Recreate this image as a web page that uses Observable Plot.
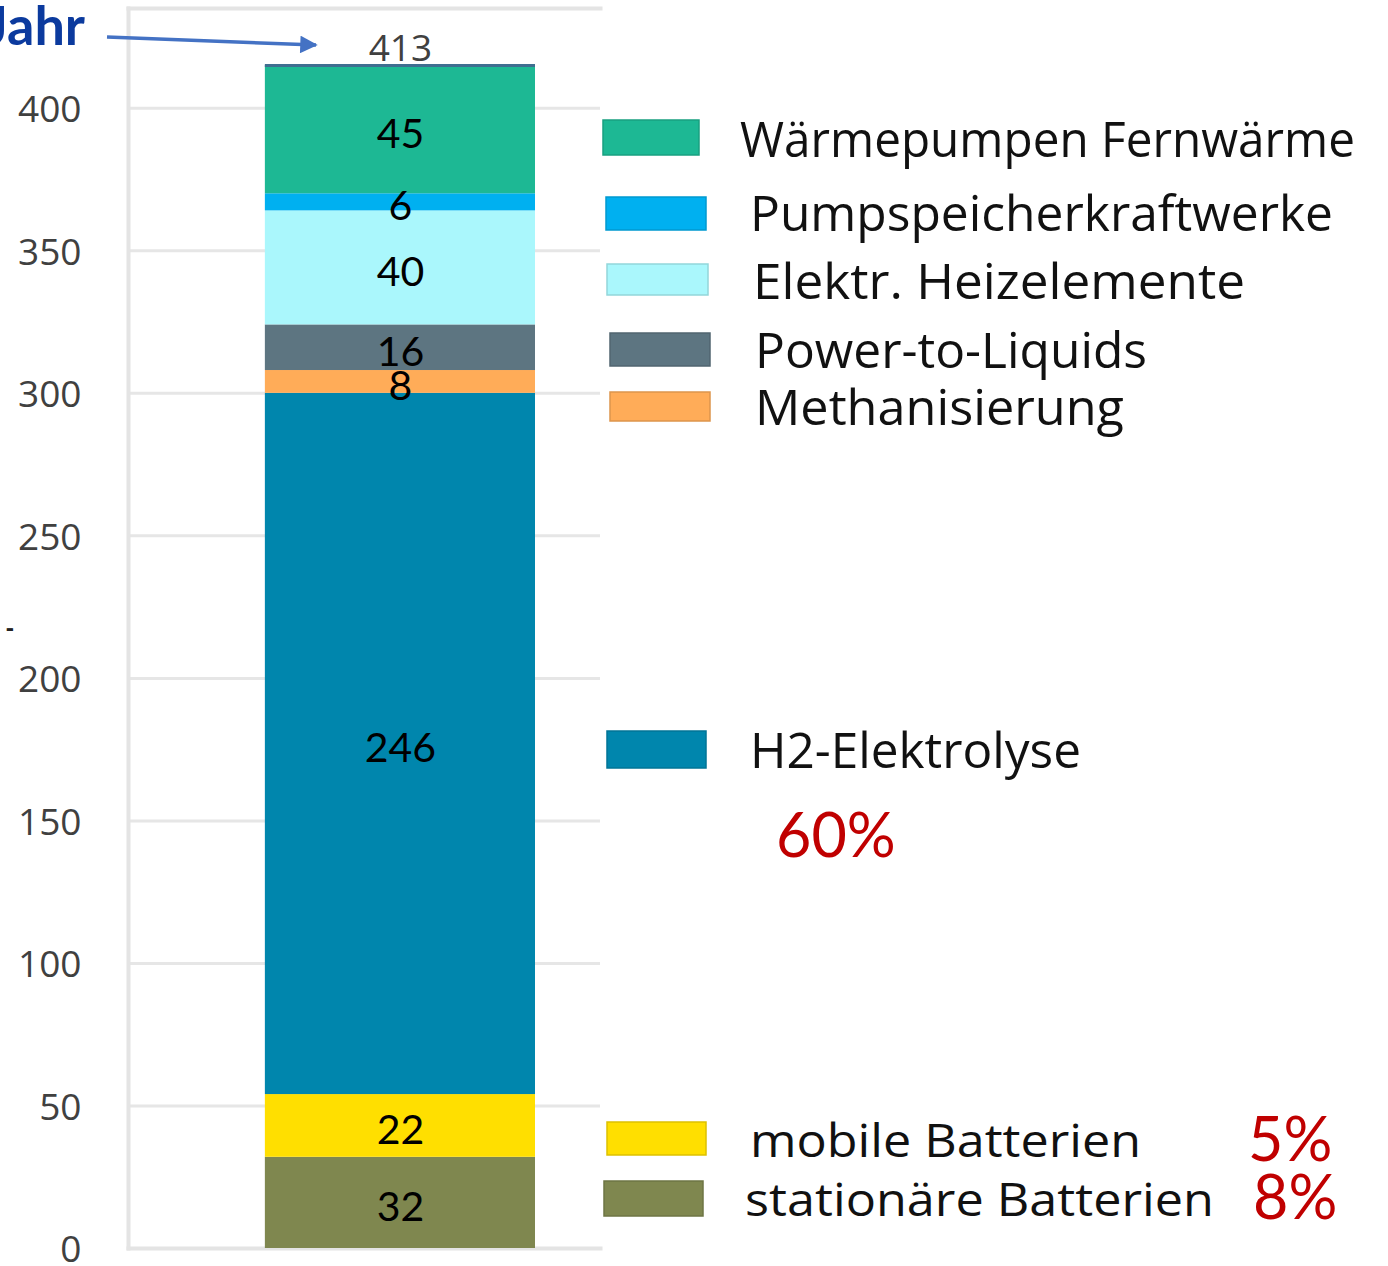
<!DOCTYPE html>
<html><head><meta charset="utf-8">
<script src="https://cdn.jsdelivr.net/npm/d3@7"></script>
<script src="https://cdn.jsdelivr.net/npm/@observablehq/plot@0.6"></script>
<style>
html,body{margin:0;padding:0;background:#fff;}
#wrap{position:relative;width:1388px;height:1266px;overflow:hidden;background:#fff;}
#wrap > svg{position:absolute;left:0;top:0;}
</style></head><body><div id="wrap"></div>
<script>
// ---- data ----
const barCategory = "Summe";
const categories = ["stationäre Batterien","mobile Batterien","H2-Elektrolyse","Methanisierung","Power-to-Liquids","Elektr. Heizelemente","Pumpspeicherkraftwerke","Wärmepumpen Fernwärme"];
const values = [32, 22, 246, 8, 16, 40, 6, 45];
const colors = ["#7f874f","#ffdf00","#0086ad","#ffac58","#5d7581","#aaf7fc","#00b0f0","#1db894"];
const totalLabel = 413;
const yTicks = [0, 50, 100, 150, 200, 250, 300, 350, 400];
const yMax = 435;
const shareCategories = ["H2-Elektrolyse","mobile Batterien","stationäre Batterien"];
const shareLabels = ["60%","5%","8%"];
const annotation = "Jahr";

// ---- chart ----
const data = categories.map((c, i) => ({category: c, value: values[i], bar: barCategory}));
const stackTop = d3.sum(values);

const chart = Plot.plot({
  width: 1388, height: 1266,
  marginLeft: 128, marginRight: 788, marginTop: 8, marginBottom: 18,
  style: {fontFamily: "'Open Sans', sans-serif", color: "#404040", background: "transparent", overflow: "visible"},
  x: {domain: [barCategory], padding: 0.272, align: 0.678, round: false, axis: null},
  y: {domain: [0, yMax]},
  color: {domain: categories, range: colors},
  marks: [
    Plot.ruleY(yTicks.slice(1), {stroke: "#e6e6e6", strokeWidth: 3}),
    Plot.frame({anchor: "left", stroke: "#e4e4e4", strokeWidth: 4}),
    Plot.frame({anchor: "top", stroke: "#e4e4e4", strokeWidth: 4}),
    Plot.frame({anchor: "bottom", stroke: "#e4e4e4", strokeWidth: 4}),
    Plot.axisY({ticks: yTicks, tickSize: 0, tickPadding: 47, fontSize: 37, label: null, fill: "#404040", dy: 2}),
    Plot.barY(data, {x: "bar", y: "value", fill: "category"}),
    Plot.tickY([stackTop], {x: () => barCategory, y: d => d, stroke: "#3f6e90", strokeWidth: 3}),
    Plot.text(data, Plot.stackY({x: "bar", y: "value", text: d => String(d.value), fontSize: 41, dy: 5, fontFamily: "Lato, sans-serif", fill: "#000"})),
    Plot.text([totalLabel], {x: () => barCategory, y: d => d, dy: -22, text: d => String(d), fontSize: 37, fill: "#404040"})
  ]
});
document.getElementById("wrap").appendChild(chart);

// ---- overlay: legend, share labels, annotation (layout only) ----
const legendLayout = {
  "Wärmepumpen Fernwärme":  {sx: 603, sy: 120, sw: 96,  sh: 35, tx: 740, base: 157, tl: 615, fs: 50},
  "Pumpspeicherkraftwerke": {sx: 606, sy: 197, sw: 100, sh: 33, tx: 750, base: 231, tl: 583, fs: 50},
  "Elektr. Heizelemente":   {sx: 607, sy: 264, sw: 101, sh: 31, tx: 753, base: 299, tl: 492, fs: 50},
  "Power-to-Liquids":       {sx: 610, sy: 333, sw: 100, sh: 33, tx: 755, base: 368, tl: 392, fs: 49},
  "Methanisierung":         {sx: 610, sy: 392, sw: 100, sh: 29, tx: 755, base: 425, tl: 369, fs: 49},
  "H2-Elektrolyse":         {sx: 607, sy: 731, sw: 99,  sh: 37, tx: 750, base: 768, tl: 331, fs: 50},
  "mobile Batterien":       {sx: 607, sy: 1122, sw: 99, sh: 33, tx: 750, base: 1157, tl: 391, fs: 45},
  "stationäre Batterien":   {sx: 604, sy: 1181, sw: 99, sh: 35, tx: 745, base: 1216, tl: 469, fs: 45}
};
const shareLayout = {
  "H2-Elektrolyse":       {x: 776, base: 857},
  "mobile Batterien":     {x: 1248, base: 1161},
  "stationäre Batterien": {x: 1253, base: 1219}
};

const ov = d3.select("#wrap").append("svg")
  .attr("width", 1388).attr("height", 1266)
  .style("pointer-events", "none");

const color = chart.scale("color");
const lg = ov.append("g").selectAll("g").data(categories.slice().reverse()).join("g");
lg.append("rect")
  .attr("x", d => legendLayout[d].sx).attr("y", d => legendLayout[d].sy)
  .attr("width", d => legendLayout[d].sw).attr("height", d => legendLayout[d].sh)
  .attr("fill", d => color.apply(d))
  .attr("stroke", d => d3.color(color.apply(d)).darker(0.4)).attr("stroke-width", 1.5);
lg.append("text")
  .attr("x", d => legendLayout[d].tx).attr("y", d => legendLayout[d].base)
  .attr("textLength", d => legendLayout[d].tl).attr("lengthAdjust", "spacingAndGlyphs")
  .attr("font-family", "'Open Sans', sans-serif").attr("font-size", d => legendLayout[d].fs)
  .attr("fill", "#111")
  .text(d => d);

ov.append("g").selectAll("text").data(shareCategories).join("text")
  .attr("x", d => shareLayout[d].x).attr("y", d => shareLayout[d].base)
  .attr("font-family", "Lato, sans-serif").attr("font-size", 61)
  .attr("fill", "#c00000")
  .text((d, i) => shareLabels[i]);

// annotation "Jahr" with arrow to the total
ov.append("text").attr("x", 85).attr("y", 45).attr("text-anchor", "end")
  .attr("font-family", "Lato, sans-serif").attr("font-weight", 700).attr("font-size", 54)
  .attr("fill", "#0b3a9e").text(annotation);
ov.append("defs").append("marker").attr("id", "ah")
  .attr("viewBox", "0 0 10 10").attr("refX", 9).attr("refY", 5)
  .attr("markerWidth", 6).attr("markerHeight", 5).attr("orient", "auto")
  .attr("markerUnits", "strokeWidth")
  .append("path").attr("d", "M0,0L10,5L0,10z").attr("fill", "#4472c4");
ov.append("line").attr("x1", 107).attr("y1", 37).attr("x2", 316).attr("y2", 45)
  .attr("stroke", "#4472c4").attr("stroke-width", 3.5).attr("marker-end", "url(#ah)");
ov.append("text").attr("x", 6).attr("y", 636).attr("font-family", "'Open Sans', sans-serif")
  .attr("font-size", 24).attr("font-weight", 700).attr("fill", "#222").text("-");
</script>
</body></html>
